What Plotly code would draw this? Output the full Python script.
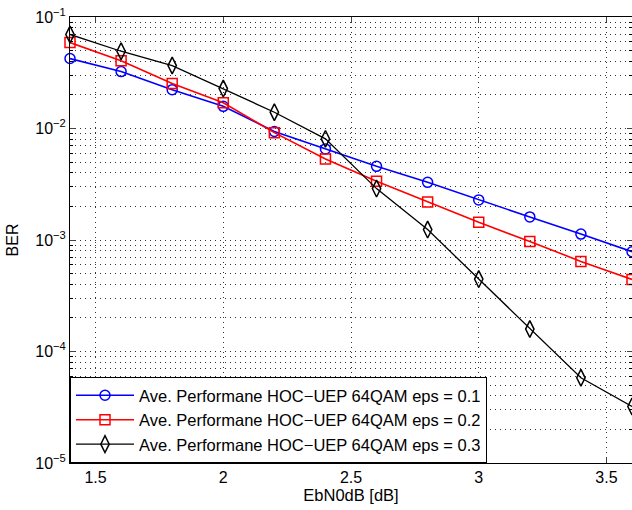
import plotly.graph_objects as go

x = [1.4, 1.6, 1.8, 2.0, 2.2, 2.4, 2.6, 2.8, 3.0, 3.2, 3.4, 3.6]
ber_eps01 = [0.0424, 0.0324, 0.0223, 0.0158, 0.0094, 0.00656, 0.00458, 0.00329, 0.00229, 0.00161, 0.00113, 0.000785]
ber_eps02 = [0.059, 0.0405, 0.0253, 0.0170, 0.00918, 0.00533, 0.00336, 0.00219, 0.00144, 0.000971, 0.000643, 0.000443]
ber_eps03 = [0.0697, 0.0493, 0.0367, 0.0228, 0.0140, 0.00807, 0.00289, 0.00124, 0.000446, 0.000159, 5.81e-5, 3.21e-5]
names = ["Ave. Performane HOC\u2212UEP 64QAM eps = 0.1",
         "Ave. Performane HOC\u2212UEP 64QAM eps = 0.2",
         "Ave. Performane HOC\u2212UEP 64QAM eps = 0.3"]
x_ticks = [1.5, 2, 2.5, 3, 3.5]
x_ticktext = ["1.5", "2", "2.5", "3", "3.5"]
y_ticks = [1e-5, 1e-4, 1e-3, 1e-2, 1e-1]
y_ticktext = ["10<sup>\u22125</sup>", "10<sup>\u22124</sup>", "10<sup>\u22123</sup>", "10<sup>\u22122</sup>", "10<sup>\u22121</sup>"]

font = "Liberation Sans, Arial, sans-serif"
grid = dict(showgrid=True, gridcolor="#333", griddash="1px,4px", gridwidth=1)
fig = go.Figure()
styles = [("blue", "circle-open", 1.6, 10), ("red", "square-open", 1.6, 10), ("black", "diamond-tall-open", 1.3, 12)]
for ys, nm, (c, sym, w, ms) in zip([ber_eps01, ber_eps02, ber_eps03], names, styles):
    fig.add_trace(go.Scatter(x=x, y=ys, name=nm, mode="lines+markers",
                             line=dict(color=c, width=w),
                             marker=dict(symbol=sym, size=ms, color=c, line=dict(width=1.5, color=c)),
                             cliponaxis=False))

fig.update_layout(
    width=632, height=510,
    margin=dict(l=70, r=0, t=17, b=47),
    plot_bgcolor="white", paper_bgcolor="white",
    font=dict(family=font, size=16, color="black"),
    showlegend=True,
    legend=dict(x=0, y=0, xanchor="left", yanchor="bottom",
                bordercolor="black", borderwidth=1, bgcolor="white",
                font=dict(size=16.5), tracegroupgap=0, itemwidth=58),
    xaxis=dict(range=[1.4, 3.6], tickvals=x_ticks, ticktext=x_ticktext, automargin=False,
               ticks="inside", ticklen=5, showline=True, linecolor="black", linewidth=1, mirror="ticks",
               zeroline=False, tickfont=dict(size=16),
               title=dict(text="EbN0dB [dB]", standoff=4, font=dict(size=16.5)), **grid),
    yaxis=dict(type="log", range=[-5, -1], tickvals=y_ticks, ticktext=y_ticktext, automargin=False,
               ticks="inside", ticklen=5, showline=True, linecolor="black", linewidth=1, mirror="ticks",
               zeroline=False, tickfont=dict(size=16),
               minor=dict(ticks="inside", ticklen=3, tickcolor="black", dtick="D1", **grid),
               title=dict(text="BER", standoff=12, font=dict(size=16)), **grid),
)
fig.write_html("out.html", config={"displayModeBar": False})
with open("out.html", encoding="utf-8") as f:
    html = f.read()
html = html.replace("<head>", "<head><style>html,body{margin:0;padding:0;overflow:hidden;}</style>", 1)
with open("out.html", "w", encoding="utf-8") as f:
    f.write(html)
